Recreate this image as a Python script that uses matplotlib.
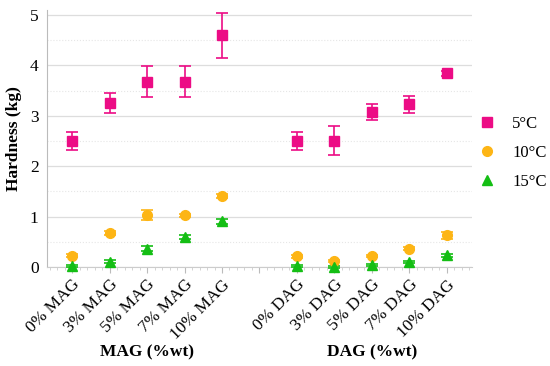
import numpy as np
import matplotlib
matplotlib.use("Agg")
import matplotlib.pyplot as plt
from matplotlib.lines import Line2D
from matplotlib.ticker import MultipleLocator, AutoMinorLocator

plt.rcParams['font.family'] = ['Liberation Serif', 'DejaVu Serif']

labels = ['0% MAG', '3% MAG', '5% MAG', '7% MAG', '10% MAG', '',
          '0% DAG', '3% DAG', '5% DAG', '7% DAG', '10% DAG']

# hardness (kg) and error bars, MAG then DAG
h5 = [2.50, 3.25, 3.68, 3.68, 4.60, 2.50, 2.51, 3.07, 3.23, 3.84]
e5 = [0.18, 0.20, 0.30, 0.30, 0.45, 0.18, 0.29, 0.16, 0.17, 0.05]
h10 = [0.22, 0.67, 1.03, 1.03, 1.41, 0.21, 0.12, 0.21, 0.36, 0.63]
e10 = [0.03, 0.04, 0.10, 0.03, 0.04, 0.03, 0.02, 0.02, 0.03, 0.07]
h15 = [0.02, 0.10, 0.36, 0.60, 0.91, 0.02, 0.00, 0.03, 0.09, 0.23]
e15 = [0.02, 0.03, 0.05, 0.04, 0.05, 0.02, 0.02, 0.02, 0.02, 0.03]

pos = [1, 2, 3, 4, 5, 7, 8, 9, 10, 11]

fig = plt.figure(figsize=(5.5, 3.66), dpi=100)
ax = fig.add_axes([0.0855, 0.2705, 0.7725, 0.7022])

series = [
    (h5, e5, 's', '#EC0C85', '5°C'),
    (h10, e10, 'o', '#FDB515', '10°C'),
    (h15, e15, '^', '#14BE14', '15°C'),
]
handles = []
for h, e, m, c, lab in series:
    ax.errorbar(pos, h, yerr=e, fmt=m, color=c, ecolor=c, ms=7, elinewidth=1.2,
                capsize=4, capthick=1.2, clip_on=False, zorder=3)
    handles.append(Line2D([], [], ls='none', marker=m, color=c, ms=7, label=lab))

ax.set_xlim(0.33, 11.67)
ax.set_ylim(0, 5.1)
ax.set_xticks(range(1, 12))
ax.set_xticklabels(labels, rotation=45, ha='right', rotation_mode='anchor', fontsize=12.5)
ax.xaxis.set_minor_locator(AutoMinorLocator(5))
ax.yaxis.set_major_locator(MultipleLocator(1))
ax.yaxis.set_minor_locator(MultipleLocator(0.5))
ax.tick_params(axis='y', which='both', length=0, labelsize=12.5, pad=6)
ax.tick_params(axis='x', which='major', length=4, color='#BBBBBB', pad=3)
ax.tick_params(axis='x', which='minor', length=2, color='#CCCCCC')
ax.grid(axis='y', which='major', color='#DDDDDD', lw=0.9)
ax.grid(axis='y', which='minor', color='#E6E6E6', lw=0.8, ls=':')
ax.set_axisbelow(True)
for s in ['top', 'right']:
    ax.spines[s].set_visible(False)
ax.spines['left'].set_color('#BBBBBB')
ax.spines['bottom'].set_color('#CCCCCC')

ax.set_ylabel('Hardness (kg)', fontsize=12.5, fontweight='bold', labelpad=6)
fig.text(147 / 550, 1 - 352 / 366, 'MAG (%wt)', ha='center', va='center',
         fontsize=12.5, fontweight='bold')
fig.text(372 / 550, 1 - 352 / 366, 'DAG (%wt)', ha='center', va='center',
         fontsize=12.5, fontweight='bold')

fig.legend(handles=handles, loc='center left', bbox_to_anchor=(479 / 550, 1 - 153 / 366),
           frameon=False, fontsize=12, handlelength=1.0, handletextpad=1.0,
           labelspacing=0.8, borderaxespad=0, borderpad=0)

fig.savefig('out.png', dpi=100)
